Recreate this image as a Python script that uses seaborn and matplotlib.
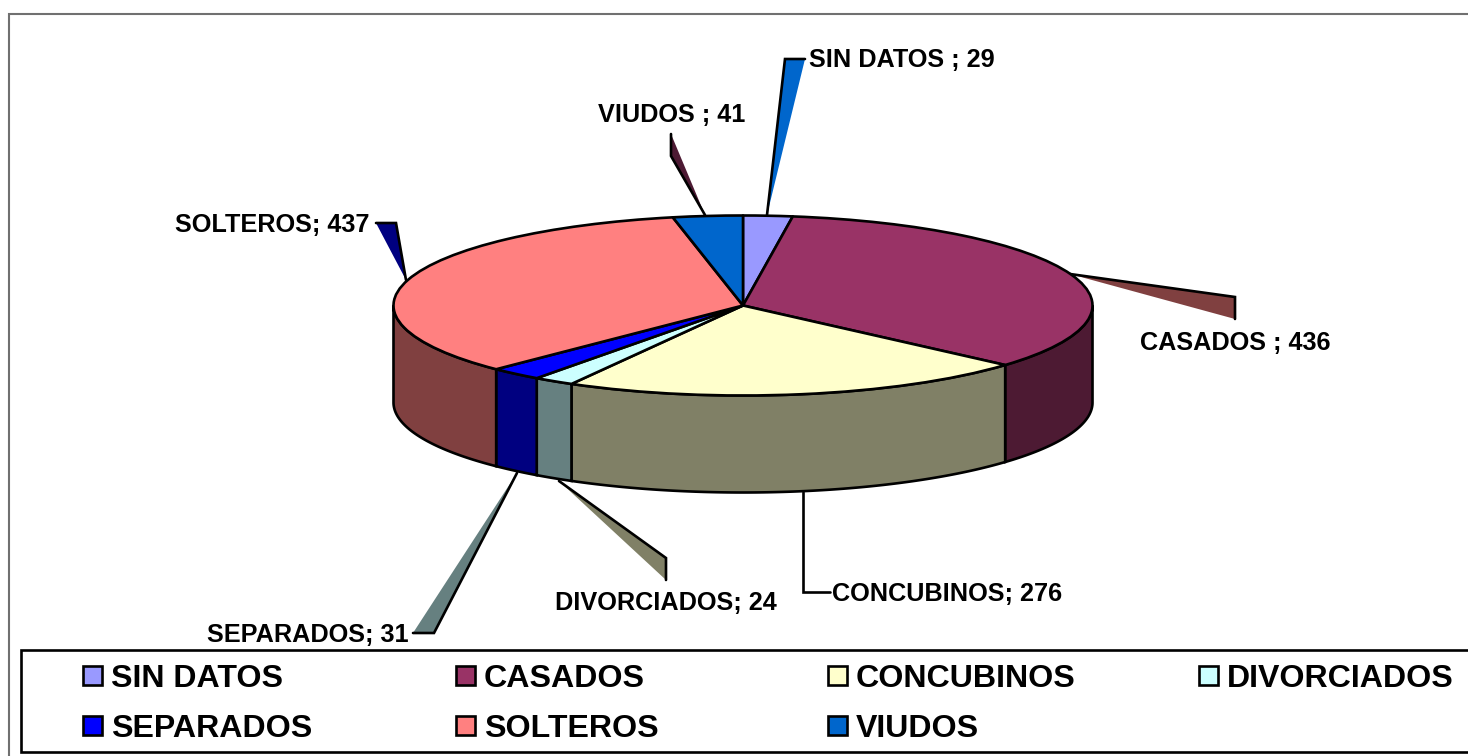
import numpy as np
import matplotlib
matplotlib.use("Agg")
import matplotlib.pyplot as plt
from matplotlib.patches import Rectangle, Polygon
import seaborn as sns

categories = ["SIN DATOS", "CASADOS", "CONCUBINOS", "DIVORCIADOS", "SEPARADOS", "SOLTEROS", "VIUDOS"]
values = [29, 436, 276, 24, 31, 437, 41]
separators = [" ; ", " ; ", "; ", "; ", "; ", "; ", " ; "]

top_colors = sns.color_palette(["#9999FF", "#993366", "#FFFFCC", "#CCFFFF", "#0000FF", "#FF8080", "#0066CC"])
side_colors = sns.color_palette(["#4D4D80", "#4D1A33", "#808066", "#668080", "#000080", "#804040", "#003366"])
leader_colors = ["#0066CC", "#804040", "none", "#808066", "#668080", "#000080", "#4D1A33"]

W, H = 1468, 756
sns.set_theme(style="white")
plt.rcParams["font.family"] = ["Liberation Sans", "DejaVu Sans"]
plt.rcParams["font.weight"] = "bold"
LW = 1.9

fig = plt.figure(figsize=(W / 100, H / 100), dpi=100, facecolor="white")

# page layer, in pixel coordinates
page = fig.add_axes([0, 0, 1, 1], zorder=0)
page.set_xlim(0, W)
page.set_ylim(H, 0)
page.axis("off")

# outer chart frame and legend box
page.plot([9.2, 9.2, W], [H, 13.8, 13.8], color="#707070", lw=1.5, solid_joinstyle="miter")
page.plot([W + 5, 21.2, 21.2, W + 5], [650, 650, 752, 752], color="black", lw=1.9, solid_joinstyle="miter")

# leader callouts: (fill triangle vertices, in outline order)
leaders = [
    [(767, 215), (785, 59), (805, 59)],
    [(1070, 274), (1235, 297), (1235, 319)],
    [(803, 492), (803, 592), (830, 592)],
    [(559, 481), (666, 558), (666, 580)],
    [(517, 473), (434, 633), (413, 633)],
    [(406, 280), (396, 223), (376, 223)],
    [(705, 215), (671, 156), (671, 134)],
]
for pts, col in zip(leaders, leader_colors):
    page.add_patch(Polygon(pts, closed=True, facecolor=col, edgecolor="none"))
    xs, ys = zip(*pts)
    page.plot(xs, ys, color="black", lw=LW, solid_joinstyle="miter")

# data labels
label_pos = [(809, 57.5), (1140, 340), (832, 591.5), (555, 600), (207, 632), (175, 222), (598, 112)]
for cat, val, sep, (x, y) in zip(categories, values, separators, label_pos):
    page.text(x, y, f"{cat}{sep}{val}", fontsize=18.2, fontweight="bold", color="black",
              ha="left", va="center_baseline")

# legend
legend_cols = [83, 456, 828, 1199]
legend_rows = [675.5, 725.5]
for i, (cat, col) in enumerate(zip(categories, top_colors)):
    x = legend_cols[i % 4]
    y = legend_rows[i // 4]
    page.add_patch(Rectangle((x, y - 9.5), 19, 19, facecolor=col, edgecolor="black", lw=LW))
    page.text(x + 28, y, cat, fontsize=23.1, fontweight="bold", color="black",
              ha="left", va="center_baseline")

# pie layer: the unit circle maps onto the ellipse of the top face
cx, cy, rx, ry, depth = 743, 305.5, 349.5, 90.0, 97.0
pie_ax = fig.add_axes([(cx - rx) / W, 1 - (cy + ry) / H, 2 * rx / W, 2 * ry / H], zorder=1)
pie_ax.patch.set_alpha(0)
pie_ax.pie(values, colors=top_colors, startangle=90, counterclock=False, radius=1,
           wedgeprops=dict(edgecolor="black", linewidth=LW, joinstyle="round"))
pie_ax.set_aspect("auto")
pie_ax.set_xlim(-1, 1)
pie_ax.set_ylim(-1, 1)
pie_ax.axis("off")

# visible outer wall of every slice
d = depth / ry
edges = np.cumsum([0] + values) / sum(values) * 2 * np.pi
for a, b, col in zip(edges[:-1], edges[1:], side_colors):
    lo, hi = max(a, np.pi / 2), min(b, 3 * np.pi / 2)
    if hi <= lo:
        continue
    t = np.linspace(lo, hi, 120)
    x, y = np.sin(t), np.cos(t)
    verts = np.r_[np.c_[x, y], np.c_[x[::-1], y[::-1] - d]]
    pie_ax.add_patch(Polygon(verts, closed=True, facecolor=col, edgecolor="black",
                             lw=LW, clip_on=False, zorder=0.5))
for w in pie_ax.patches:
    w.set_clip_on(False)

fig.savefig("out.png", dpi=100, facecolor="white")
